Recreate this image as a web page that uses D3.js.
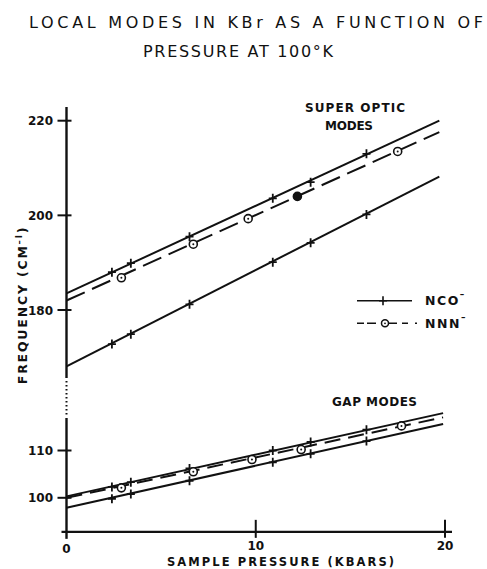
<!DOCTYPE html>
<html>
<head>
<meta charset="utf-8">
<script src="https://cdn.jsdelivr.net/npm/d3@7"></script>
<style>
  body { margin: 0; background: #fff; }
  text { font-family: "DejaVu Sans", sans-serif; fill: #111; }
</style>
</head>
<body>
<div id="chart"></div>
<script>
// values
const pressureNCO = [2.4, 3.4, 6.5, 10.9, 12.9, 15.85];
const ncoOpticHigh = [188.0, 189.9, 195.5, 203.6, 207.0, 213.0];
const ncoOpticLow = [172.8, 174.9, 181.2, 190.1, 194.2, 200.2];
const ncoGapHigh = [102.3, 103.3, 106.2, 110.0, 111.8, 114.4];
const ncoGapLow = [99.8, 100.8, 103.6, 107.5, 109.3, 112.0];

const pressureNNN = [2.9, 6.7, 9.6, 12.2, 17.5];
const nnnOptic = [186.8, 193.9, 199.3, 204.0, 213.5];
const pressureNNNGap = [2.9, 6.7, 9.8, 12.4, 17.7];
const nnnGap = [102.1, 105.5, 108.1, 110.2, 115.2];

// fitted straight lines: [pressure, frequency] at both ends
const fitNcoOpticHigh = [[0, 183.5], [19.7, 220.0]];
const fitNcoOpticLow = [[0, 168.1], [19.7, 208.2]];
const fitNnnOptic = [[0, 182.0], [19.7, 217.6]];
const fitNcoGapHigh = [[0, 100.3], [19.9, 117.9]];
const fitNcoGapLow = [[0, 97.9], [19.9, 115.6]];
const fitNnnGap = [[0, 100.0], [19.9, 117.0]];

const xTicks = [0, 10, 20];
const yTicksOptic = [180, 200, 220];
const yTicksGap = [100, 110];

const W = 487, H = 569;
const svg = d3.select("#chart").append("svg").attr("width", W).attr("height", H);
svg.append("rect").attr("width", W).attr("height", H).attr("fill", "#fff");

const x = d3.scaleLinear().domain([0, 20]).range([66.5, 445]);
// broken y axis: two pieces with the same unit size
const yOptic = d3.scaleLinear().domain([180, 220]).range([310, 120.7]);
const yGap = d3.scaleLinear().domain([100, 110]).range([497.8, 450.5]);
const axisY = yGap(92.8);
const x0 = x(0);

const ink = "#111";

// axes
svg.append("line").attr("x1", x0).attr("x2", x0).attr("y1", 107).attr("y2", 378)
  .attr("stroke", ink).attr("stroke-width", 2.4);
svg.append("line").attr("x1", x0).attr("x2", x0).attr("y1", 381).attr("y2", 417)
  .attr("stroke", ink).attr("stroke-width", 2).attr("stroke-dasharray", "1.5,2.5");
svg.append("line").attr("x1", x0).attr("x2", x0).attr("y1", 418).attr("y2", axisY + 7)
  .attr("stroke", ink).attr("stroke-width", 2.4);
svg.append("line").attr("x1", x0 - 5).attr("x2", 452).attr("y1", axisY).attr("y2", axisY)
  .attr("stroke", ink).attr("stroke-width", 2.4);

svg.selectAll(".xt").data(xTicks.filter(d => d > 0)).enter().append("line")
  .attr("x1", d => x(d)).attr("x2", d => x(d)).attr("y1", axisY - 12).attr("y2", axisY + 6)
  .attr("stroke", ink).attr("stroke-width", 2);
svg.selectAll(".xl").data(xTicks).enter().append("text")
  .attr("x", d => x(d)).attr("y", d => d === 0 ? 553 : 550)
  .attr("text-anchor", "middle").attr("font-size", 12).attr("font-weight", "bold")
  .text(d => d);

const yTickRows = yTicksOptic.map(v => ({ v, y: yOptic(v) }))
  .concat(yTicksGap.map(v => ({ v, y: yGap(v) })));
svg.selectAll(".yt").data(yTickRows).enter().append("line")
  .attr("x1", x0 - 9).attr("x2", x0 + 5).attr("y1", d => d.y).attr("y2", d => d.y)
  .attr("stroke", ink).attr("stroke-width", 2);
svg.selectAll(".yl").data(yTickRows).enter().append("text")
  .attr("x", 53).attr("y", d => d.y + 4.5)
  .attr("text-anchor", "end").attr("font-size", 12).attr("font-weight", "bold")
  .text(d => d.v);

// fitted lines
const line = (ys) => d3.line().x(d => x(d[0])).y(d => ys(d[1]));
const fits = [
  { pts: fitNcoOpticHigh, s: yOptic, dash: null },
  { pts: fitNcoOpticLow, s: yOptic, dash: null },
  { pts: fitNnnOptic, s: yOptic, dash: "20,8" },
  { pts: fitNcoGapHigh, s: yGap, dash: null },
  { pts: fitNcoGapLow, s: yGap, dash: null },
  { pts: fitNnnGap, s: yGap, dash: "16,8" }
];
fits.forEach(f => {
  svg.append("path").attr("d", line(f.s)(f.pts))
    .attr("fill", "none").attr("stroke", ink).attr("stroke-width", 2)
    .attr("stroke-dasharray", f.dash);
});

// markers
const plusPath = "M-4,0H4M0,-4.5V4.5";
function crosses(px, vals, s) {
  svg.append("g").selectAll("path").data(vals).enter().append("path")
    .attr("transform", (d, i) => `translate(${x(px[i])},${s(d)})`)
    .attr("d", plusPath).attr("stroke", ink).attr("stroke-width", 1.8).attr("fill", "none");
}
function rings(px, vals, s, filled) {
  const g = svg.append("g").selectAll("g").data(vals).enter().append("g")
    .attr("transform", (d, i) => `translate(${x(px[i])},${s(d)})`);
  g.append("circle").attr("r", 4).attr("fill", (d, i) => filled && filled[i] ? ink : "#fff")
    .attr("stroke", ink).attr("stroke-width", 1.6);
  g.append("circle").attr("r", 1).attr("fill", ink);
}
crosses(pressureNCO, ncoOpticHigh, yOptic);
crosses(pressureNCO, ncoOpticLow, yOptic);
crosses(pressureNCO, ncoGapHigh, yGap);
crosses(pressureNCO, ncoGapLow, yGap);
rings(pressureNNN, nnnOptic, yOptic, [false, false, false, true, false]);
rings(pressureNNNGap, nnnGap, yGap);

// legend
const lg = svg.append("g");
lg.append("line").attr("x1", 357).attr("x2", 412).attr("y1", 300.7).attr("y2", 300.7)
  .attr("stroke", ink).attr("stroke-width", 1.6);
lg.append("path").attr("d", plusPath).attr("transform", "translate(383,300.7)")
  .attr("stroke", ink).attr("stroke-width", 1.6);
lg.append("line").attr("x1", 357).attr("x2", 417).attr("y1", 323.3).attr("y2", 323.3)
  .attr("stroke", ink).attr("stroke-width", 1.6).attr("stroke-dasharray", "7,3,9,11,10,5,6");
lg.append("circle").attr("cx", 385).attr("cy", 323.3).attr("r", 3.5)
  .attr("fill", "#fff").attr("stroke", ink).attr("stroke-width", 1.5);
lg.append("circle").attr("cx", 385).attr("cy", 323.3).attr("r", 0.9).attr("fill", ink);
[["NCO", 305], ["NNN", 328]].forEach(([t, yy]) => {
  const tx = lg.append("text").attr("x", 425).attr("y", yy)
    .attr("font-size", 12.5).attr("font-weight", "bold").attr("letter-spacing", 1.5);
  tx.append("tspan").text(t);
  tx.append("tspan").attr("dy", -8).attr("font-size", 9).text("\u2013");
});

// annotations
svg.append("text").attr("x", 355).attr("y", 112).attr("text-anchor", "middle")
  .attr("font-size", 12).attr("font-weight", "bold").attr("textLength", 100)
  .attr("lengthAdjust", "spacing").text("SUPER OPTIC");
svg.append("text").attr("x", 349).attr("y", 130).attr("text-anchor", "middle")
  .attr("font-size", 12).attr("font-weight", "bold").attr("textLength", 48)
  .attr("lengthAdjust", "spacing").text("MODES");
svg.append("text").attr("x", 374.5).attr("y", 406).attr("text-anchor", "middle")
  .attr("font-size", 12).attr("font-weight", "bold").attr("textLength", 85)
  .attr("lengthAdjust", "spacing").text("GAP MODES");

// titles
svg.append("text").attr("x", 29).attr("y", 27.5)
  .attr("font-size", 16).attr("textLength", 454).attr("lengthAdjust", "spacing")
  .text("LOCAL MODES IN KBr AS A FUNCTION OF");
svg.append("text").attr("x", 143).attr("y", 57)
  .attr("font-size", 16).attr("textLength", 190).attr("lengthAdjust", "spacing")
  .text("PRESSURE AT 100\u00B0K");

// axis titles
svg.append("text").attr("x", 280.5).attr("y", 566)
  .attr("text-anchor", "middle").attr("font-size", 11.5).attr("font-weight", "bold")
  .attr("textLength", 227).attr("lengthAdjust", "spacing").text("SAMPLE PRESSURE (KBARS)");
const yl = svg.append("text").attr("transform", "translate(27,305) rotate(-90)")
  .attr("text-anchor", "middle").attr("font-size", 12.5).attr("font-weight", "bold")
  .attr("letter-spacing", 1.8);
yl.append("tspan").text("FREQUENCY (CM");
yl.append("tspan").attr("dy", -5).attr("font-size", 8.5).text("\u2013I");
yl.append("tspan").attr("dy", 5).text(")");
</script>
</body>
</html>
